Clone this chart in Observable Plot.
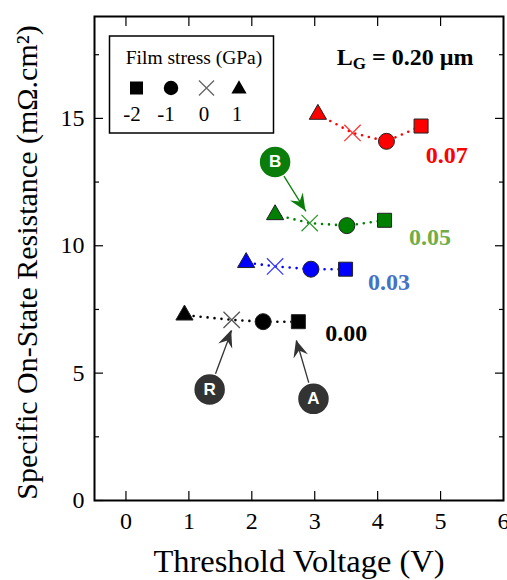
<!DOCTYPE html>
<html><head><meta charset="utf-8">
<script src="https://cdn.jsdelivr.net/npm/d3@7"></script>
<script src="https://cdn.jsdelivr.net/npm/@observablehq/plot@0.6"></script>
<style>
body{margin:0;background:#fff;}
#chart{position:relative;width:507px;height:580px;overflow:hidden;}
</style>
</head><body><div id="chart"></div>
<script>
// ---- data ----
const stressLevels = [-2, -1, 0, 1];               // GPa
const stressSymbols = ["square", "circle", "times", "triangle"];
const ratios = ["0.07", "0.05", "0.03", "0.00"];
const markerColors = ["#ff0000", "#008000", "#0000ff", "#000000"];
const crossColors = ["#ff3333", "#2e9a2e", "#3a3aff", "#555555"];
const labelColors = ["#ff0000", "#70ad47", "#4472c4", "#000000"];

// threshold voltage (V) and Ron,sp (mΩ.cm²), order: stress -2, -1, 0, 1
const vth007 = [4.69, 4.14, 3.60, 3.05];
const ron007 = [14.70, 14.10, 14.43, 15.16];
const vth005 = [4.11, 3.51, 2.92, 2.37];
const ron005 = [11.00, 10.79, 10.89, 11.22];
const vth003 = [3.49, 2.94, 2.37, 1.91];
const ron003 = [9.08, 9.08, 9.19, 9.34];
const vth000 = [2.74, 2.18, 1.68, 0.93];
const ron000 = [7.02, 7.02, 7.09, 7.28];

// value-label anchor positions (data units)
const labelX = [5.10, 4.83, 4.18, 3.50];
const labelY = [13.55, 10.34, 8.57, 6.55];

// annotation callouts
const annoText = ["B", "R", "A"];
const annoX = [2.37, 1.33, 2.98];
const annoY = [13.29, 4.36, 3.99];
const annoTipX = [2.86, 1.68, 2.71];
const annoTipY = [11.35, 6.67, 6.28];
const annoFill = ["#0a7d0a", "#333333", "#333333"];

// ticks
const xTicks = [0, 1, 2, 3, 4, 5];
const xTickLabels = [0, 1, 2, 3, 4, 5, 6];
const yMajor = [0, 5, 10, 15];
const yMinor = [2.5, 7.5, 12.5, 17.5];

// ---- build table ----
const vthAll = [vth007, vth005, vth003, vth000];
const ronAll = [ron007, ron005, ron003, ron000];
const rows = [];
ratios.forEach((r, i) => {
  stressLevels.forEach((s, j) => {
    rows.push({ratio: r, stress: s, symbol: stressSymbols[j],
      color: markerColors[i], cross: crossColors[i],
      x: vthAll[i][j], y: ronAll[i][j]});
  });
});
const labelRows = ratios.map((r, i) => ({ratio: r, x: labelX[i], y: labelY[i], color: labelColors[i]}));
const annos = annoText.map((t, i) => ({t, x: annoX[i], y: annoY[i], tx: annoTipX[i], ty: annoTipY[i], fill: annoFill[i]}));

const font = "'Liberation Serif', 'Times New Roman', serif";

const plot = Plot.plot({
  width: 507, height: 580,
  marginLeft: 94, marginRight: 4, marginTop: 16, marginBottom: 80,
  style: {fontFamily: font, fontSize: "24px", color: "#000", background: "#fff", overflow: "visible"},
  x: {domain: [-0.5, 6]},
  y: {domain: [0, 19]},
  color: {type: "identity"},
  marks: [
    // tick marks (inward)
    Plot.axisX(xTicks, {anchor: "bottom", tickSize: -9, fill: "none", label: null, strokeWidth: 1.2}),
    Plot.axisX(xTicks, {anchor: "top", tickSize: -9, fill: "none", label: null, strokeWidth: 1.2}),
    Plot.axisY(yMajor, {anchor: "left", tickSize: -9, fill: "none", label: null, strokeWidth: 1.2}),
    Plot.axisY(yMinor, {anchor: "left", tickSize: -5, fill: "none", label: null, strokeWidth: 1.2}),
    Plot.axisY(yMajor, {anchor: "right", tickSize: -9, fill: "none", label: null, strokeWidth: 1.2}),
    Plot.axisY(yMinor, {anchor: "right", tickSize: -5, fill: "none", label: null, strokeWidth: 1.2}),
    // tick labels
    Plot.axisX(xTickLabels, {anchor: "bottom", tickSize: 0, tickPadding: 11, label: null, fontSize: 24}),
    Plot.axisY(yMajor, {anchor: "left", tickSize: 0, tickPadding: 10, label: null, fontSize: 24}),
    // axis titles
    Plot.text(["Threshold Voltage (V)"], {frameAnchor: "bottom", dy: 61, lineAnchor: "middle", textAnchor: "middle", fontSize: 32.5, text: d => d}),
    Plot.text(["Specific On-State Resistance (mΩ.cm²)"], {frameAnchor: "left", dx: -67, dy: 4, rotate: -90, textAnchor: "middle", lineAnchor: "middle", fontSize: 30, text: d => d}),
    Plot.frame({stroke: "#000", strokeWidth: 2}),
    // dotted connecting lines
    Plot.line(rows, {x: "x", y: "y", z: "ratio", stroke: "color", strokeDasharray: "0,7", strokeLinecap: "round", strokeWidth: 2.6}),
    // markers
    Plot.dot(rows.filter(d => d.symbol === "times"), {x: "x", y: "y", symbol: "times", r: 7.5, stroke: "cross", strokeWidth: 1.3}),
    Plot.dot(rows.filter(d => d.symbol === "square"), {x: "x", y: "y", symbol: "square", r: 7.9, fill: "color", stroke: "#222", strokeWidth: 1}),
    Plot.dot(rows.filter(d => d.symbol === "circle"), {x: "x", y: "y", symbol: "circle", r: 8, fill: "color", stroke: "#222", strokeWidth: 1}),
    Plot.dot(rows.filter(d => d.symbol === "triangle"), {x: "x", y: "y", symbol: "triangle", r: 6.4, fill: "color", stroke: "#222", strokeWidth: 1}),
    // value labels
    Plot.text(labelRows, {x: "x", y: "y", text: "ratio", fill: "color", fontWeight: "bold", fontSize: 24}),
    // gate length label
    Plot.text(["LG = 0.20 µm"], {frameAnchor: "top-right", dx: -30, dy: 41, textAnchor: "end", lineAnchor: "middle", fontWeight: "bold", fontSize: 24, text: d => d}),
    // annotation arrows
    Plot.link(annos, {x1: "x", y1: "y", x2: "tx", y2: "ty", stroke: "fill", strokeWidth: 1.3}),
    Plot.dot(annos, {x: "x", y: "y", r: 16, fill: "fill", stroke: "#fff", strokeWidth: 1.5}),
    Plot.text(annos, {x: "x", y: "y", text: "t", fill: "#fff", fontWeight: "bold", fontSize: 17, fontFamily: "'Liberation Sans', Arial, sans-serif"})
  ]
});

document.getElementById("chart").appendChild(plot);
const svg = d3.select(plot);
const sx = plot.scale("x"), sy = plot.scale("y");

// arrowheads (filled, concave)
annos.forEach(a => {
  const x0 = sx.apply(a.x), y0 = sy.apply(a.y), x1 = sx.apply(a.tx), y1 = sy.apply(a.ty);
  const ang = Math.atan2(y1 - y0, x1 - x0) * 180 / Math.PI;
  svg.append("path")
    .attr("d", "M0,0L-17,-7.5L-11,0L-17,7.5Z")
    .attr("fill", a.fill)
    .attr("transform", `translate(${x1},${y1}) rotate(${ang})`);
});

// subscript G in "LG"
svg.selectAll("text").each(function() {
  if (this.textContent === "LG = 0.20 µm") {
    const t = d3.select(this);
    t.text("");
    t.append("tspan").text("L");
    t.append("tspan").attr("font-size", 17).attr("dy", 4).text("G");
    t.append("tspan").attr("dy", -4).text(" = 0.20 µm");
  }
});

// legend
const lg = svg.append("g").attr("font-family", font);
lg.append("rect").attr("x", 109.5).attr("y", 36).attr("width", 164).attr("height", 97)
  .attr("fill", "#fff").attr("stroke", "#000").attr("stroke-width", 1.5);
lg.append("text").attr("x", 194).attr("y", 64).attr("text-anchor", "middle")
  .attr("font-size", 19.5).text("Film stress (GPa)");
const legSymX = [136.5, 171, 206.5, 239];
const legLabX = [132, 166, 204, 237];
const symMap = {square: d3.symbolSquare, circle: d3.symbolCircle, times: d3.symbolTimes, triangle: d3.symbolTriangle};
const symSize = {square: 169, circle: 165, times: 150, triangle: 100};
stressSymbols.forEach((s, j) => {
  const p = lg.append("path")
    .attr("d", d3.symbol(symMap[s], symSize[s])())
    .attr("transform", `translate(${legSymX[j]},${s === "triangle" ? 89 : 88})`);
  if (s === "times") p.attr("fill", "none").attr("stroke", "#666").attr("stroke-width", 1.3);
  else p.attr("fill", "#000");
  lg.append("text").attr("x", legLabX[j]).attr("y", 121).attr("text-anchor", "middle")
    .attr("font-size", 21).text(String(stressLevels[j]));
});
</script>
</body></html>
